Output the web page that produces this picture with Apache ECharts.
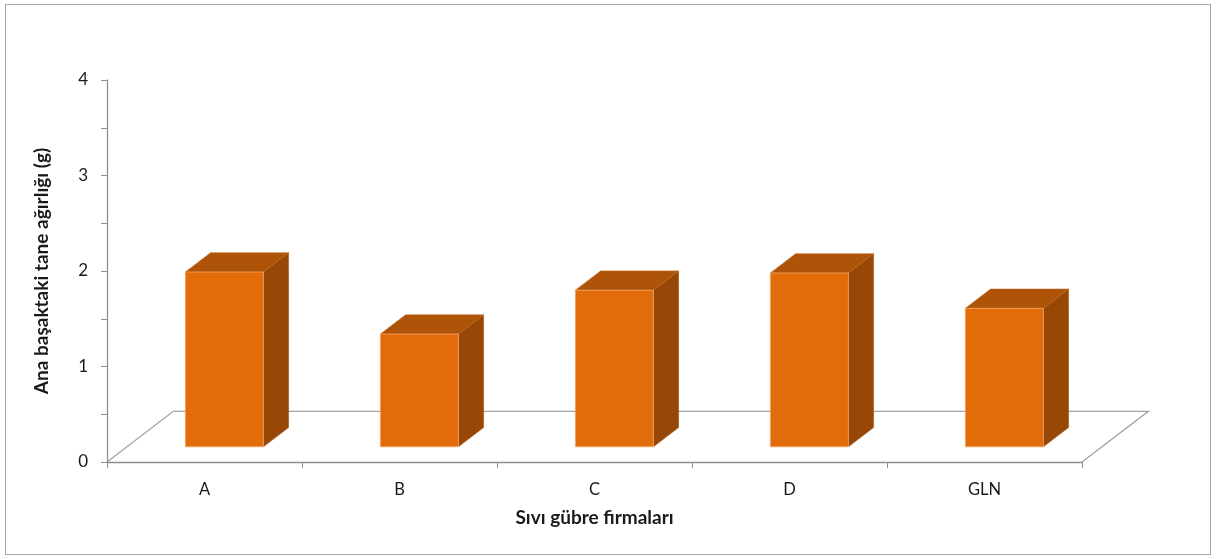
<!DOCTYPE html>
<html>
<head>
<meta charset="utf-8">
<script src="https://cdn.jsdelivr.net/npm/echarts@6/dist/echarts.min.js"></script>
<style>
  html, body { margin: 0; padding: 0; background: #ffffff; }
  #frame { position: absolute; left: 5px; top: 4px; width: 1206px; height: 551px; border: 1.5px solid #a6a6a6; box-sizing: border-box; }
  #chart { position: absolute; left: 0; top: 0; width: 1216px; height: 559px; }
</style>
</head>
<body>
<div id="frame"></div>
<div id="chart"></div>
<script>
// Fertilizer firms and main-spike grain weight (g)
const categories = ['A', 'B', 'C', 'D', 'GLN'];
const grainWeight = [1.83, 1.18, 1.64, 1.82, 1.45];
const yTicks = [0, 1, 2, 3, 4];

const FONT = 'Lato, "Open Sans", sans-serif';
const AXIS_GREY = '#8f8f8f';

// Oblique depth of the floor, as a fraction of one category band
const DEPTH_X = 0.34;
const DEPTH_Y = -0.26;
// Where the columns sit inside that depth
const FRONT = 0.30;
const BACK = 0.68;
const BAR_WIDTH = 0.40;

const chart = echarts.init(document.getElementById('chart'));

function renderFloor(params, api) {
  const cs = params.coordSys;
  const band = cs.width / categories.length;
  const dx = DEPTH_X * band, dy = DEPTH_Y * band;
  const y0 = api.coord([0, 0])[1];
  const L = cs.x, R = cs.x + cs.width;
  return {
    type: 'polyline',
    shape: { points: [[L, y0], [L + dx, y0 + dy], [R + dx, y0 + dy], [R, y0]] },
    style: { stroke: '#a3a3a3', lineWidth: 1.3, fill: null }
  };
}

function renderColumn(params, api) {
  const cat = api.value(0);
  const val = api.value(1);
  const band = api.size([1, 0])[0];
  const base = api.coord([cat, 0]);
  const top = api.coord([cat, val]);
  const ddx = DEPTH_X * band, ddy = DEPTH_Y * band;
  const fx = FRONT * ddx, fy = FRONT * ddy;
  const bx = (BACK - FRONT) * ddx, by = (BACK - FRONT) * ddy;
  const w = BAR_WIDTH * band;
  const x0 = base[0] - w / 2 + fx, x1 = x0 + w;
  const yb = base[1] + fy, yt = top[1] + fy;
  return {
    type: 'group',
    children: [
      {
        type: 'polygon',
        shape: { points: [[x1, yt], [x1 + bx, yt + by], [x1 + bx, yb + by], [x1, yb]] },
        style: { fill: '#974806', stroke: '#a85510', lineWidth: 0.6 }
      },
      {
        type: 'polygon',
        shape: { points: [[x0, yt], [x1, yt], [x1 + bx, yt + by], [x0 + bx, yt + by]] },
        style: { fill: '#ad5408', stroke: '#c26a20', lineWidth: 0.6 }
      },
      {
        type: 'rect',
        shape: { x: x0, y: yt, width: w, height: yb - yt },
        style: { fill: '#e36c0a', stroke: '#f2a565', lineWidth: 0.8 }
      }
    ]
  };
}

chart.setOption({
  animation: false,
  backgroundColor: 'transparent',
  grid: { left: 107, right: 134, top: 80, bottom: 97, containLabel: false },
  xAxis: {
    type: 'category',
    data: categories,
    name: 'Sıvı gübre firmaları',
    nameLocation: 'middle',
    nameGap: 46,
    nameTextStyle: { fontFamily: FONT, fontSize: 19, fontWeight: 'bold', color: '#1a1a1a', verticalAlign: 'top' },
    axisLine: { show: true, lineStyle: { color: AXIS_GREY, width: 1.3 } },
    axisTick: { show: true, length: 6, lineStyle: { color: AXIS_GREY } },
    axisLabel: { fontFamily: FONT, fontSize: 16.5, color: '#1a1a1a', margin: 19 },
    splitLine: { show: false }
  },
  yAxis: {
    type: 'value',
    min: 0,
    max: 4,
    interval: 0.5,
    name: 'Ana başaktaki tane ağırlığı (g)',
    nameLocation: 'middle',
    nameGap: 56,
    nameRotate: 90,
    nameTextStyle: { fontFamily: FONT, fontSize: 19, fontWeight: 'bold', color: '#1a1a1a' },
    axisLine: { show: true, lineStyle: { color: AXIS_GREY, width: 1.3 } },
    axisTick: { show: true, length: 6, lineStyle: { color: AXIS_GREY } },
    axisLabel: {
      fontFamily: FONT, fontSize: 17, color: '#1a1a1a', margin: 19,
      formatter: v => (yTicks.indexOf(v) >= 0 ? String(v) : '')
    },
    splitLine: { show: false }
  },
  series: [
    {
      type: 'custom',
      name: 'floor',
      z: 1,
      silent: true,
      renderItem: renderFloor,
      data: [[0, 0]]
    },
    {
      type: 'custom',
      name: 'Ana başaktaki tane ağırlığı',
      z: 2,
      renderItem: renderColumn,
      encode: { x: 0, y: 1 },
      data: grainWeight.map((v, i) => [i, v])
    }
  ]
});
</script>
</body>
</html>
